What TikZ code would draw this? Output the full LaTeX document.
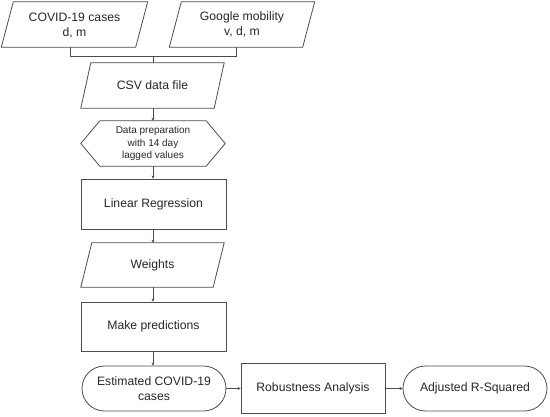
\documentclass[tikz,border=0pt]{standalone}
\usepackage{fontspec}
\setmainfont{Liberation Sans}
\usetikzlibrary{arrows.meta}
\tikzset{
  box/.style={draw=none, minimum height=#1, inner sep=0pt, align=center, font=\fontsize{12.2}{15}\selectfont, text=black!85},
  box/.default=45pt,
  line/.style={draw=black!70, line width=0.8pt},
  arr/.style={line, -{Stealth[length=3pt,width=3pt]}},
  rectbox/.style={box=#1, draw=black!70, line width=0.8pt},
  rectbox/.default=50pt,
  stadium/.style={box, draw=black!70, line width=0.8pt, rounded corners=22.5pt},
  small/.style={font=\fontsize{10}{12.5}\selectfont}
}
\newcommand{\paral}[2]{% node, slant
  \draw[line] ([xshift=#2]#1.north west) -- (#1.north east) -- ([xshift=-#2]#1.south east) -- (#1.south west) -- cycle;}
\begin{document}
\begin{tikzpicture}[x=1pt,y=-1pt]
\useasboundingbox (0,0) rectangle (550,417);
% top inputs
\node[box, minimum width=146pt, text depth=0pt] (covid) at (74.5,24.5) {COVID-19 cases\\d, m};
\paral{covid}{12pt}
\node[box, minimum width=145pt] (google) at (242,24.5) {Google mobility\\v, d, m};
\paral{google}{12pt}
% CSV
\node[box, minimum width=143pt] (csv) at (152.5,85.5) {CSV data file};
\paral{csv}{10pt}
% hexagon
\node[box, small, minimum width=144pt] (prep) at (153,143.5) {Data preparation\\with 14 day\\lagged values};
\draw[line] (prep.west) -- ([xshift=19pt]prep.north west) -- ([xshift=-19pt]prep.north east) -- (prep.east) -- ([xshift=-19pt]prep.south east) -- ([xshift=19pt]prep.south west) -- cycle;
% linear regression
\node[rectbox, minimum width=145pt] (lr) at (153.5,204) {Linear Regression};
% weights
\node[box, minimum width=143pt, minimum height=44pt] (w) at (152.5,265) {Weights};
\paral{w}{11pt}
% make predictions
\node[rectbox=49pt, minimum width=145pt] (mp) at (153.5,326.5) {Make predictions};
% bottom row
\node[stadium, minimum width=144pt] (est) at (154,388.5) {Estimated COVID-19\\cases};
\node[rectbox, minimum width=144pt] (rob) at (313,388) {Robustness Analysis};
\node[stadium, minimum width=144pt] (adj) at (475,388.5) {Adjusted R-Squared};
% connectors
\coordinate (j) at (153,56);
\draw[line] ([xshift=-4.5pt]covid.south) |- (j);
\draw[line] ([xshift=-6pt]google.south) |- (j);
\draw[line] (j) -- (csv.north -| j);
\draw[arr] (csv.south -| j) -- (prep.north -| j);
\draw[arr] (prep.south -| j) -- (lr.north -| j);
\draw[arr] (lr.south -| j) -- (w.north -| j);
\draw[arr] (w.south -| j) -- (mp.north -| j);
\draw[arr] (mp.south -| j) -- (est.north -| j);
\draw[arr] (est.east) -- (est.east -| rob.west);
\draw[arr] (rob.east |- adj.west) -- (adj.west);
\end{tikzpicture}
\end{document}
